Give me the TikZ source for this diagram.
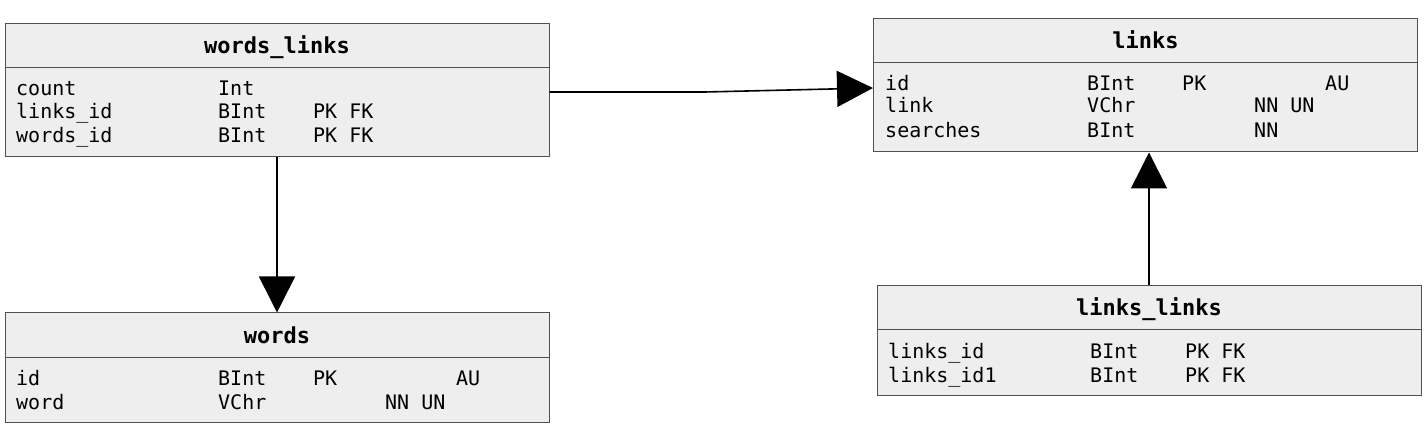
\documentclass[tikz,border=0pt]{standalone}
\usepackage{fontspec}
\setmonofont{DejaVu Sans Mono}
\usetikzlibrary{arrows.meta}
\definecolor{tblfill}{HTML}{EEEEEE}
\definecolor{tbldraw}{HTML}{505050}
% one field row: id, left x, baseline y, name, type, keys, nn/un, au
\newcommand{\tblrow}[8]{%
	\node [fld] (#1n) at (#2+11,#3)  {#4};
	\node [fld] (#1t) at (#2+213,#3) {#5};
	\node [fld] (#1k) at (#2+308,#3) {#6};
	\node [fld] (#1c) at (#2+380,#3) {#7};
	\node [fld] (#1a) at (#2+451,#3) {#8};}
\begin{document}
\begin{tikzpicture}[x=1pt,y=-1pt,
			head/.style={rectangle,draw=tbldraw,fill=tblfill,line width=1pt,minimum width=544pt,minimum height=44pt},
			body/.style={head,minimum height=#1},
			title/.style={anchor=base,font=\ttfamily\bfseries\fontsize{22}{26}\selectfont},
			fld/.style={anchor=base west,font=\ttfamily\fontsize{20}{24}\selectfont},
			fk/.style={line width=1.6pt,-{Triangle[length=36pt,width=36pt]}},
			inner sep=0pt]
			\useasboundingbox (0,0) rectangle (1426,427);
			% words_links
			\node [head]		(wlhead)	at (277,46)		{};
			\node [body=89pt]	(wlbody)	at (277,112.5)	{};
				\node [title] (wltitle) at (277,54) {words\_links};
				\tblrow{wla}{5}{96}{count}{Int}{}{}{}
				\tblrow{wlb}{5}{119}{links\_id}{BInt}{PK FK}{}{}
				\tblrow{wlc}{5}{143}{words\_id}{BInt}{PK FK}{}{}
			% links
			\node [head]		(lhead)		at (1145.5,41)	{};
			\node [body=89pt]	(lbody)		at (1145.5,107.5)	{};
				\node [title] (ltitle) at (1145.5,49) {links};
				\tblrow{la}{874}{91}{id}{BInt}{PK}{}{AU}
				\tblrow{lb}{874}{113}{link}{VChr}{}{NN UN}{}
				\tblrow{lc}{874}{138}{searches}{BInt}{}{NN}{}
			% words
			\node [head]		(whead)		at (277,335)	{};
			\node [body=65pt]	(wbody)		at (277,389.5)	{};
				\node [title] (wtitle) at (277,343) {words};
				\tblrow{wa}{5}{385}{id}{BInt}{PK}{}{AU}
				\tblrow{wb}{5}{409}{word}{VChr}{}{NN UN}{}
			% links_links
			\node [head]		(llhead)	at (1149,308)	{};
			\node [body=65pt]	(llbody)	at (1149,362.5)	{};
				\node [title] (lltitle) at (1149,316) {links\_links};
				\tblrow{lla}{877}{358}{links\_id}{BInt}{PK FK}{}{}
				\tblrow{llb}{877}{382}{links\_id1}{BInt}{PK FK}{}{}
			% references
			\coordinate (kink) at (705,92);
			\coordinate (lin) at (874,88);
			\draw [fk] (wlbody.east |- kink) -- (kink) -- (lbody.west |- lin);
			\draw [fk] (wlbody.south) -- (whead.north);
			\draw [fk] (llhead.north) -- (llhead.north |- lbody.south);
		\end{tikzpicture}
\end{document}
